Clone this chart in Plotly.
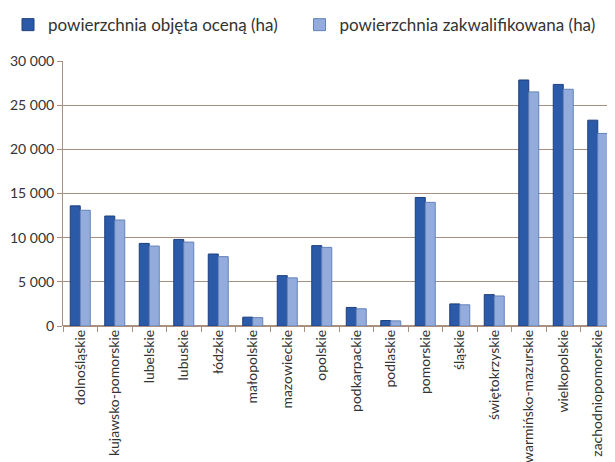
import plotly.graph_objects as go

categories = ["dolnośląskie", "kujawsko-pomorskie", "lubelskie", "lubuskie", "łódzkie",
              "małopolskie", "mazowieckie", "opolskie", "podkarpackie", "podlaskie",
              "pomorskie", "śląskie", "świętokrzyskie", "warmińsko-mazurskie",
              "wielkopolskie", "zachodniopomorskie"]
ocena = [13600, 12450, 9350, 9800, 8150, 1000, 5700, 9100, 2100, 620,
         14550, 2500, 3550, 27850, 27350, 23300]
zakwal = [13100, 12000, 9050, 9500, 7850, 950, 5450, 8900, 1950, 580,
          14000, 2400, 3400, 26500, 26800, 21800]
name_a = "powierzchnia objęta oceną (ha)"
name_b = "powierzchnia zakwalifikowana (ha)"
ytick_vals = [0, 5000, 10000, 15000, 20000, 25000, 30000]

FONT = "Lato, 'Open Sans', sans-serif"
GRID = "#a88f80"

fig = go.Figure()
fig.add_trace(go.Bar(x=categories, y=ocena, name=name_a, legend="legend", showlegend=True,
                     marker=dict(color="#2b5aa8", line=dict(color="#1d3f7e", width=1))))
fig.add_trace(go.Bar(x=categories, y=zakwal, name=name_b, legend="legend2", showlegend=True,
                     marker=dict(color="#93acdb", line=dict(color="#6382bb", width=1))))

legend_common = dict(orientation="h", xref="container", yref="container",
                     y=0.963, xanchor="left", yanchor="middle",
                     font=dict(size=17, color="#333333"), itemwidth=30,
                     bgcolor="rgba(0,0,0,0)")

# page has an 8px body margin: the figure is drawn from (8, 8)
fig.update_layout(
    width=615, height=462,
    showlegend=True,
    margin=dict(l=55, r=8, t=53, b=144, autoexpand=False),
    paper_bgcolor="white", plot_bgcolor="white",
    barmode="group", bargap=0.42, bargroupgap=0.0,
    separators=", ",
    font=dict(family=FONT, color="#333333"),
    legend=dict(x=0.0, **legend_common),
    legend2=dict(x=0.474, **legend_common),
    xaxis=dict(tickangle=-90, tickfont=dict(size=14, color="#333333"),
               ticks="outside", tickson="boundaries", ticklen=5, tickcolor=GRID,
               showline=False, showgrid=False, range=[-0.5, 15.5]),
    yaxis=dict(range=[0, 30000], tickvals=ytick_vals, tickformat=",d",
               tickfont=dict(size=14, color="#333333"),
               showgrid=True, gridcolor=GRID, gridwidth=1.3,
               showline=True, linecolor=GRID, linewidth=1,
               ticks="outside", ticklen=5, tickcolor=GRID, zeroline=True, zerolinecolor=GRID),
)

fig.write_html("out.html")
